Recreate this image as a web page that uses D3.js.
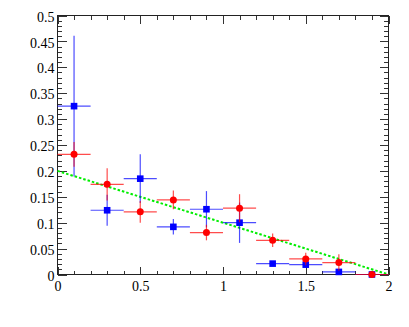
<!DOCTYPE html>
<html>
<head>
<meta charset="utf-8">
<script src="https://cdn.jsdelivr.net/npm/d3@7"></script>
<style>
  body { margin: 0; background: #fff; }
  svg { display: block; }
  .tk text { font-family: "Liberation Serif", "DejaVu Serif", serif; font-size: 14px; fill: #000; }
</style>
</head>
<body>
<div id="chart"></div>
<script>
// bin centres and half widths
var binX = [0.1, 0.3, 0.5, 0.7, 0.9, 1.1, 1.3, 1.5, 1.7, 1.9];
var binHalf = [0.1, 0.1, 0.1, 0.1, 0.1, 0.1, 0.1, 0.1, 0.1, 0.1];

// blue squares
var blueY = [0.325, 0.124, 0.185, 0.092, 0.126, 0.100, 0.021, 0.019, 0.005, 0.0];
var blueErr = [0.136, 0.030, 0.047, 0.015, 0.035, 0.039, 0.004, 0.004, 0.002, 0.0];

// red circles
var redY = [0.232, 0.174, 0.121, 0.144, 0.081, 0.128, 0.066, 0.030, 0.023, 0.0];
var redErr = [0.024, 0.031, 0.021, 0.018, 0.015, 0.027, 0.013, 0.012, 0.016, 0.0];

// green dotted line
var lineX = [0, 2];
var lineY = [0.2, 0];

// tick labels
var xTicks = [0, 0.5, 1, 1.5, 2];
var xTickLabels = ["0", "0.5", "1", "1.5", "2"];
var yTicks = [0, 0.05, 0.1, 0.15, 0.2, 0.25, 0.3, 0.35, 0.4, 0.45, 0.5];
var yTickLabels = ["0", "0.05", "0.1", "0.15", "0.2", "0.25", "0.3", "0.35", "0.4", "0.45", "0.5"];

var W = 409, H = 327;
var margin = { top: 15.5, right: 20.5, bottom: 52.5, left: 57.5 };
var width = W - margin.left - margin.right;
var height = H - margin.top - margin.bottom;

var svg = d3.select("#chart").append("svg")
    .attr("width", W)
    .attr("height", H);

var g = svg.append("g")
    .attr("transform", "translate(" + margin.left + "," + margin.top + ")");

var x = d3.scaleLinear().domain([0, 2]).range([0, width]);
var y = d3.scaleLinear().domain([0, 0.5]).range([height, 0]);

var xMinor = d3.range(0, 2.0001, 0.1);
var yMinor = d3.range(0, 0.5001, 0.01);

// ticks, ROOT style: inside on all four sides
function styleAxis(sel) {
    sel.attr("class", "tk").attr("font-family", null).attr("font-size", null);
    sel.select(".domain").remove();
    sel.selectAll("line").attr("stroke", "#333").attr("shape-rendering", "crispEdges");
}

g.append("g").attr("transform", "translate(0," + height + ")")
    .call(d3.axisBottom(x).tickValues(xMinor).tickSize(-4).tickFormat(""))
    .call(styleAxis);
g.append("g").attr("transform", "translate(0," + height + ")")
    .call(d3.axisBottom(x).tickValues(xTicks).tickSize(-8).tickPadding(7)
        .tickFormat(function (d, i) { return xTickLabels[i]; }))
    .call(styleAxis);
g.append("g")
    .call(d3.axisTop(x).tickValues(xMinor).tickSize(-4).tickFormat(""))
    .call(styleAxis);
g.append("g")
    .call(d3.axisTop(x).tickValues(xTicks).tickSize(-8).tickFormat(""))
    .call(styleAxis);

g.append("g")
    .call(d3.axisLeft(y).tickValues(yMinor).tickSize(-4.5).tickFormat(""))
    .call(styleAxis);
g.append("g")
    .call(d3.axisLeft(y).tickValues(yTicks).tickSize(-9).tickPadding(3)
        .tickFormat(function (d, i) { return yTickLabels[i]; }))
    .call(styleAxis)
    .selectAll("text").attr("dy", "0.4em");
g.append("g").attr("transform", "translate(" + width + ",0)")
    .call(d3.axisRight(y).tickValues(yMinor).tickSize(-4.5).tickFormat(""))
    .call(styleAxis);
g.append("g").attr("transform", "translate(" + width + ",0)")
    .call(d3.axisRight(y).tickValues(yTicks).tickSize(-9).tickFormat(""))
    .call(styleAxis);

// frame
g.append("rect")
    .attr("x", 0).attr("y", 0)
    .attr("width", width).attr("height", height)
    .attr("fill", "none")
    .attr("stroke", "#222")
    .attr("stroke-width", 1);

// green dotted line
var lineData = lineX.map(function (v, i) { return { x: v, y: lineY[i] }; });
g.append("path")
    .datum(lineData)
    .attr("fill", "none")
    .attr("stroke", "#00ee00")
    .attr("stroke-width", 2)
    .attr("stroke-dasharray", "2.5,2")
    .attr("d", d3.line().x(function (d) { return x(d.x); }).y(function (d) { return y(d.y); }));

function drawSeries(vals, errs, color, shape) {
    var data = binX.map(function (v, i) {
        return { x: v, dx: binHalf[i], y: vals[i], dy: errs[i] };
    });
    var s = g.append("g");
    s.selectAll(".hbar").data(data).enter().append("line")
        .attr("x1", function (d) { return x(d.x - d.dx); })
        .attr("x2", function (d) { return x(d.x + d.dx); })
        .attr("y1", function (d) { return y(d.y); })
        .attr("y2", function (d) { return y(d.y); })
        .attr("stroke", color).attr("stroke-width", 1.2).attr("stroke-opacity", 0.7);
    s.selectAll(".vbar").data(data.filter(function (d) { return d.dy > 0; })).enter().append("line")
        .attr("x1", function (d) { return x(d.x); })
        .attr("x2", function (d) { return x(d.x); })
        .attr("y1", function (d) { return y(d.y - d.dy); })
        .attr("y2", function (d) { return y(d.y + d.dy); })
        .attr("stroke", color).attr("stroke-width", 1.2).attr("stroke-opacity", 0.7);
    if (shape === "square") {
        s.selectAll(".mk").data(data).enter().append("rect")
            .attr("x", function (d) { return x(d.x) - 3.3; })
            .attr("y", function (d) { return y(d.y) - 3.3; })
            .attr("width", 6.6).attr("height", 6.6)
            .attr("fill", color);
    } else {
        s.selectAll(".mk").data(data).enter().append("circle")
            .attr("cx", function (d) { return x(d.x); })
            .attr("cy", function (d) { return y(d.y); })
            .attr("r", 3.5)
            .attr("fill", color);
    }
}

drawSeries(blueY, blueErr, "#0000ff", "square");
drawSeries(redY, redErr, "#ff0000", "circle");
</script>
</body>
</html>
